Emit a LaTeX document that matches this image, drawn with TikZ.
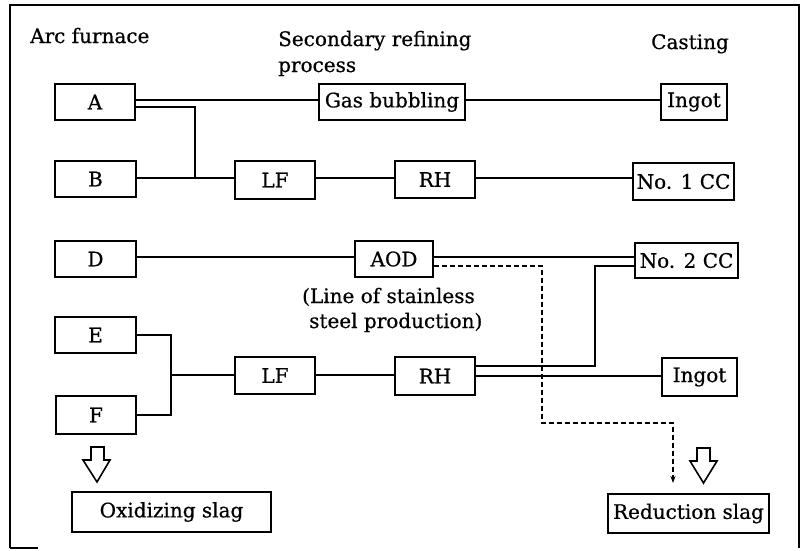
\documentclass[tikz,border=0pt]{standalone}
\usepackage{fontspec}
\setmainfont{DejaVu Serif}[FakeBold=0.6]
\usetikzlibrary{arrows.meta}
\begin{document}
\begin{tikzpicture}[x=1pt,y=-1pt,
  font=\fontsize{20}{24}\selectfont,
  box/.style={draw,line width=1.8pt,inner sep=0pt,align=center},
  conn/.style={line width=1.6pt},
  dconn/.style={line width=1.6pt,dash pattern=on 5pt off 3pt},
  lbl/.style={inner sep=0pt,anchor=base west},
  hollow/.style={draw,line width=1.6pt,fill=white}]
\useasboundingbox (0,0) rectangle (803,550);
% frame
\draw[line width=1.8pt] (10,548) -- (10,5) -- (799,5) -- (799,548);
\draw[line width=1.2pt] (10,548) -- (38,548);
% headings
\node[lbl] (h1) at (30,43) {Arc furnace};
\node[lbl] (h2) at (278,46) {Secondary refining};
\node[lbl] (h3) at (278,72) {process};
\node[lbl] (h4) at (651,49) {Casting};
\node[lbl] (s1) at (302,303) {(Line of stainless};
\node[lbl] (s2) at (309,328) {steel production)};
% boxes
\node[box,minimum width=80pt,minimum height=36pt] (A) at (95,102) {A};
\node[box,minimum width=81pt,minimum height=36pt] (B) at (95.5,179) {B};
\node[box,minimum width=81pt,minimum height=36pt] (D) at (95.5,259) {D};
\node[box,minimum width=81pt,minimum height=36pt] (E) at (95.5,335) {E};
\node[box,minimum width=80pt,minimum height=38pt] (F) at (96,415) {F};
\node[box,minimum width=80pt,minimum height=38pt] (LF1) at (275,180) {LF};
\node[box,minimum width=80pt,minimum height=37pt] (LF2) at (275,375.5) {LF};
\node[box,minimum width=80pt,minimum height=37pt] (RH1) at (435,179.5) {RH};
\node[box,minimum width=80pt,minimum height=38pt] (RH2) at (435,376) {RH};
\node[box,minimum width=146pt,minimum height=36pt] (Gas) at (392,102) {Gas bubbling};
\node[box,minimum width=78pt,minimum height=36pt] (AOD) at (394,259) {AOD};
\node[box,minimum width=66pt,minimum height=36pt] (Ing1) at (694,102) {Ingot};
\node[box,minimum width=101pt,minimum height=37pt] (CC1) at (683.5,181.5) {No. 1 CC};
\node[box,minimum width=103pt,minimum height=35pt] (CC2) at (686.5,260.5) {No. 2 CC};
\node[box,minimum width=75pt,minimum height=38pt] (Ing2) at (699.5,377) {Ingot};
\node[box,minimum width=199pt,minimum height=40pt] (Ox) at (171.5,512) {Oxidizing slag};
\node[box,minimum width=161pt,minimum height=39pt] (Red) at (688.5,513.5) {Reduction slag};
% junction coordinates
\coordinate (j1) at (195,178);
\coordinate (j2) at (171,375);
\coordinate (c2) at (595,266);
\coordinate (d1) at (542,266);
\coordinate (d2) at (542,423);
\coordinate (d3) at (673,423);
\coordinate (d4) at (673,483);
% connectors
\draw[conn] ([yshift=2pt]A.east) -- ([yshift=2pt]A.east -| Gas.west);
\draw[conn] ([yshift=2pt]Gas.east) -- ([yshift=2pt]Gas.east -| Ing1.west);
\draw[conn] ([yshift=-5pt]A.east) -| (j1);
\draw[conn] (B.east |- j1) -- (j1) -- (j1 -| LF1.west);
\draw[conn] (LF1.east |- j1) -- (j1 -| RH1.west);
\draw[conn] (RH1.east |- j1) -- (j1 -| CC1.west);
\draw[conn] ([yshift=2pt]D.east) -- ([yshift=2pt]D.east -| AOD.west);
\draw[conn] ([yshift=2pt]AOD.east) -- ([yshift=2pt]AOD.east -| CC2.west);
\draw[conn] ([yshift=10pt]RH2.east) -| (c2) -- (c2 -| CC2.west);
\draw[conn] (RH2.east) -- (RH2.east -| Ing2.west);
\draw[conn] (E.east) -| (j2);
\draw[conn] (F.east) -| (j2);
\draw[conn] (j2) -- (j2 -| LF2.west);
\draw[conn] (LF2.east |- j2) -- (j2 -| RH2.west);
\draw[dconn,-{Stealth[length=7pt,width=5pt]}] (AOD.east |- d1) -- (d1) -- (d2) -- (d3) -- (d4);
% hollow arrows
\draw[hollow] (91,447) -- (104,447) -- (104,460) -- (110,460) -- (97,482) -- (83,460) -- (91,460) -- cycle;
\draw[hollow] (697,448) -- (710,448) -- (710,461) -- (717,461) -- (703.5,483) -- (690,461) -- (697,461) -- cycle;
\end{tikzpicture}
\end{document}
